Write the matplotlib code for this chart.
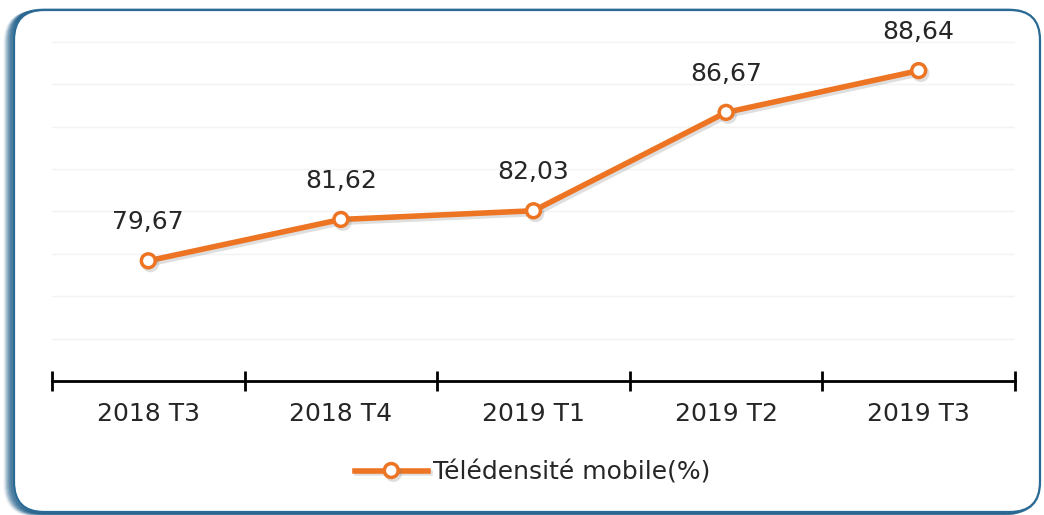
import matplotlib.pyplot as plt
import matplotlib.patheffects as pe
from matplotlib.patches import FancyBboxPatch
from matplotlib.transforms import IdentityTransform

# data
periodes = ["2018 T3", "2018 T4", "2019 T1", "2019 T2", "2019 T3"]
teledensite = [79.67, 81.62, 82.03, 86.67, 88.64]
serie = "Télédensité mobile(%)"

orange = "#ED7422"
plt.rcParams['font.family'] = ['DejaVu Sans']

fig = plt.figure(figsize=(10.44, 5.15), dpi=100)
fig.patch.set_facecolor("white")

# rounded frame with a soft blue shadow on the left
for i in range(9, 0, -1):
    sh = FancyBboxPatch((14 - i, 3 - i * 0.3), 1026, 502,
                        boxstyle="round,pad=0,rounding_size=30",
                        transform=IdentityTransform(), facecolor="none",
                        edgecolor="#1b5a85", lw=2.5, alpha=0.1 * (10 - i) / 2,
                        zorder=-2)
    fig.add_artist(sh)
frame = FancyBboxPatch((14, 3), 1026, 502,
                       boxstyle="round,pad=0,rounding_size=30",
                       transform=IdentityTransform(), facecolor="white",
                       edgecolor="#2a6a94", lw=1.6, zorder=-1)
fig.add_artist(frame)

ax = fig.add_axes([52 / 1044, 134 / 515, 963 / 1044, 360.4 / 515])
ax.set_facecolor("none")
x = list(range(len(periodes)))

ax.plot(x, teledensite, color=orange, lw=4, marker="o", ms=10,
        mfc="white", mec=orange, mew=2.5, label=serie, zorder=3,
        path_effects=[pe.SimpleLineShadow(offset=(1.5, -2), alpha=0.25, shadow_color="grey"),
                      pe.Normal()])

for xi, v in zip(x, teledensite):
    ax.annotate(f"{v:.2f}".replace(".", ","), (xi, v), xytext=(0, 28),
                textcoords="offset points", ha="center", va="center",
                fontsize=18, color="#262626")

ax.set_xlim(-0.5, len(periodes) - 0.5)
ax.set_ylim(74, 91)
ax.set_yticks(range(74, 91, 2))
ax.yaxis.grid(True, color="#f3f3f3", lw=1)
ax.set_axisbelow(True)
ax.tick_params(axis="y", left=False, labelleft=False)

for s in ["top", "right", "left"]:
    ax.spines[s].set_visible(False)
ax.spines["bottom"].set_linewidth(2)
ax.spines["bottom"].set_color("black")

ax.set_xticks([i - 0.5 for i in range(len(periodes) + 1)])
ax.set_xticklabels([])
ax.tick_params(axis="x", which="major", direction="inout", length=15, width=2, color="black")
ax.set_xticks(x, minor=True)
ax.set_xticklabels(periodes, minor=True)
ax.tick_params(axis="x", which="minor", length=0, pad=15, labelsize=18, labelcolor="#262626")

fig.legend(loc="center", bbox_to_anchor=(0.51, 0.083), frameon=False,
           fontsize=18, handlelength=2.9, handletextpad=0.2,
           labelcolor="#262626")

fig.savefig("out.png", dpi=100, facecolor="white")
